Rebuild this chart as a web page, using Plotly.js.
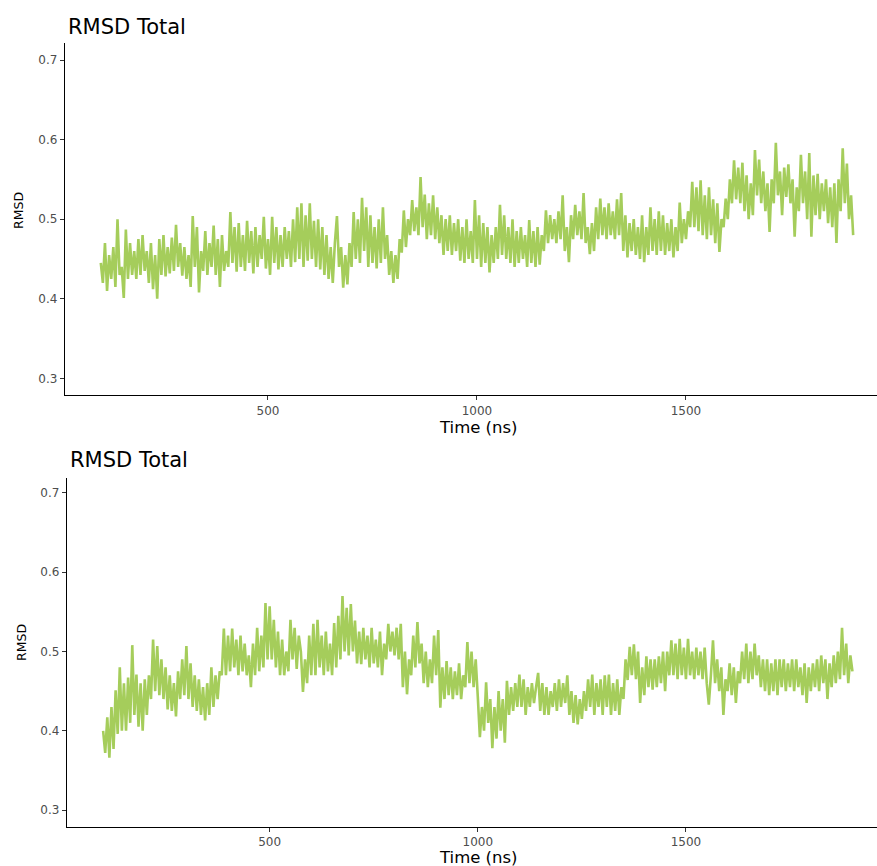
<!DOCTYPE html>
<html>
<head>
<meta charset="utf-8">
<script src="https://cdn.plot.ly/plotly-3.0.1.min.js"></script>
<style>
  html, body { margin: 0; padding: 0; background: #fff; }
  #chart { width: 877px; height: 866px; }
</style>
</head>
<body>
<div id="chart"></div>
<script>
// ---- data (RMSD sampled every 5 ns, from 100 ns to 1900 ns) ----
const timeStartNs = 100;
const timeStepNs = 5;

const rmsdTop = [
  0.445,0.42,0.47,0.41,0.455,0.425,0.465,0.415,0.50,0.43,0.44,0.401,0.487,0.425,0.47,0.43,0.46,0.425,0.475,0.43,
  0.48,0.435,0.46,0.42,0.47,0.412,0.455,0.40,0.475,0.43,0.48,0.428,0.465,0.432,0.477,0.435,0.493,0.44,0.47,0.429,
  0.465,0.425,0.455,0.415,0.504,0.44,0.49,0.408,0.46,0.435,0.485,0.43,0.47,0.44,0.492,0.43,0.475,0.415,0.48,0.435,
  0.46,0.44,0.509,0.445,0.49,0.434,0.495,0.44,0.48,0.435,0.498,0.445,0.485,0.432,0.49,0.44,0.48,0.45,0.503,0.438,
  0.475,0.43,0.503,0.445,0.49,0.437,0.48,0.44,0.49,0.45,0.485,0.44,0.50,0.446,0.515,0.45,0.52,0.44,0.505,0.448,
  0.52,0.45,0.498,0.44,0.50,0.437,0.49,0.43,0.48,0.425,0.465,0.42,0.47,0.504,0.44,0.465,0.414,0.455,0.418,0.47,
  0.44,0.509,0.45,0.50,0.445,0.527,0.46,0.515,0.44,0.505,0.445,0.49,0.438,0.50,0.445,0.515,0.45,0.48,0.43,0.46,
  0.42,0.455,0.425,0.475,0.458,0.511,0.465,0.50,0.48,0.524,0.485,0.515,0.48,0.553,0.49,0.531,0.475,0.52,0.48,0.53,
  0.475,0.515,0.47,0.505,0.455,0.50,0.46,0.505,0.455,0.495,0.46,0.50,0.448,0.49,0.445,0.50,0.45,0.485,0.445,0.524,
  0.45,0.505,0.44,0.495,0.445,0.49,0.433,0.48,0.445,0.49,0.45,0.518,0.455,0.505,0.45,0.49,0.445,0.50,0.44,0.485,
  0.445,0.49,0.45,0.48,0.44,0.499,0.445,0.485,0.44,0.49,0.443,0.48,0.46,0.511,0.47,0.505,0.475,0.50,0.47,0.51,
  0.475,0.53,0.46,0.49,0.446,0.505,0.475,0.518,0.48,0.51,0.475,0.533,0.47,0.49,0.456,0.495,0.46,0.515,0.475,0.526,
  0.48,0.515,0.475,0.52,0.48,0.51,0.475,0.525,0.48,0.533,0.46,0.505,0.452,0.495,0.46,0.50,0.455,0.49,0.45,0.505,
  0.446,0.49,0.455,0.515,0.46,0.50,0.455,0.51,0.46,0.505,0.455,0.495,0.46,0.50,0.452,0.49,0.46,0.521,0.47,0.50,
  0.475,0.51,0.49,0.547,0.49,0.54,0.485,0.549,0.48,0.53,0.475,0.54,0.48,0.525,0.47,0.52,0.459,0.50,0.49,0.526,
  0.50,0.55,0.52,0.574,0.525,0.565,0.52,0.571,0.51,0.555,0.50,0.545,0.505,0.587,0.53,0.575,0.52,0.56,0.51,0.545,
  0.484,0.55,0.52,0.596,0.53,0.56,0.505,0.565,0.528,0.569,0.52,0.55,0.478,0.54,0.51,0.581,0.52,0.56,0.50,0.583,
  0.478,0.555,0.505,0.557,0.50,0.545,0.51,0.55,0.495,0.54,0.49,0.545,0.47,0.55,0.51,0.589,0.52,0.57,0.50,0.53,
  0.48
];

const rmsdBottom = [
  0.40,0.372,0.417,0.366,0.43,0.377,0.451,0.396,0.48,0.40,0.46,0.40,0.467,0.41,0.508,0.42,0.471,0.405,0.46,0.40,
  0.465,0.42,0.47,0.44,0.515,0.45,0.507,0.445,0.49,0.44,0.48,0.427,0.47,0.425,0.46,0.418,0.475,0.44,0.49,0.445,
  0.507,0.44,0.485,0.43,0.47,0.425,0.465,0.42,0.455,0.413,0.46,0.42,0.48,0.43,0.47,0.44,0.475,0.47,0.529,0.47,
  0.52,0.475,0.529,0.48,0.515,0.47,0.52,0.475,0.51,0.47,0.495,0.455,0.51,0.47,0.53,0.475,0.52,0.48,0.561,0.49,
  0.557,0.49,0.54,0.48,0.525,0.47,0.515,0.47,0.50,0.475,0.54,0.49,0.53,0.478,0.52,0.50,0.449,0.49,0.46,0.52,
  0.47,0.535,0.47,0.54,0.48,0.52,0.47,0.525,0.475,0.51,0.47,0.536,0.48,0.545,0.49,0.57,0.50,0.555,0.495,0.56,
  0.50,0.539,0.485,0.525,0.484,0.53,0.49,0.52,0.48,0.53,0.485,0.515,0.48,0.525,0.47,0.51,0.49,0.535,0.50,0.525,
  0.495,0.53,0.49,0.535,0.455,0.50,0.446,0.49,0.47,0.52,0.48,0.537,0.485,0.51,0.46,0.50,0.455,0.49,0.46,0.52,
  0.47,0.527,0.429,0.48,0.44,0.488,0.445,0.48,0.44,0.475,0.445,0.485,0.44,0.47,0.455,0.512,0.46,0.50,0.455,0.49,
  0.443,0.392,0.43,0.40,0.461,0.41,0.44,0.378,0.43,0.39,0.45,0.40,0.44,0.385,0.463,0.42,0.455,0.425,0.46,0.43,
  0.471,0.43,0.465,0.42,0.455,0.43,0.46,0.435,0.455,0.473,0.425,0.46,0.42,0.455,0.42,0.45,0.43,0.46,0.425,0.465,
  0.43,0.46,0.435,0.47,0.42,0.45,0.41,0.445,0.408,0.44,0.415,0.45,0.425,0.465,0.43,0.471,0.42,0.46,0.43,0.465,
  0.42,0.47,0.43,0.471,0.42,0.46,0.425,0.465,0.42,0.455,0.44,0.49,0.464,0.506,0.47,0.509,0.465,0.50,0.435,0.48,
  0.445,0.494,0.455,0.49,0.452,0.49,0.455,0.494,0.46,0.50,0.45,0.50,0.47,0.514,0.47,0.51,0.465,0.516,0.47,0.505,
  0.465,0.516,0.47,0.50,0.465,0.505,0.47,0.50,0.465,0.505,0.46,0.433,0.47,0.514,0.46,0.49,0.45,0.48,0.42,0.465,
  0.45,0.485,0.445,0.48,0.435,0.475,0.46,0.50,0.465,0.51,0.46,0.50,0.465,0.51,0.47,0.495,0.455,0.49,0.45,0.49,
  0.445,0.485,0.45,0.49,0.445,0.49,0.455,0.49,0.45,0.485,0.455,0.49,0.45,0.49,0.455,0.48,0.445,0.485,0.435,0.48,
  0.45,0.485,0.455,0.49,0.45,0.495,0.46,0.49,0.44,0.485,0.455,0.495,0.46,0.50,0.465,0.53,0.47,0.51,0.46,0.495,
  0.475
];

const xTickVals = [500, 1000, 1500];
const yTickVals = [0.3, 0.4, 0.5, 0.6, 0.7];
const yTickText = ["0.3", "0.4", "0.5", "0.6", "0.7"];
const panelTitle = "RMSD Total";
const xTitle = "Time (ns)";
const yTitle = "RMSD";

// sampling grid (time axis)
function timeGrid(n) {
  const t = [];
  for (let i = 0; i < n; i++) t.push(timeStartNs + i * timeStepNs);
  return t;
}

const lineColor = "#a5cd5b";
const FONT = "DejaVu Sans, Liberation Sans, Arial, sans-serif";

const traces = [
  { x: timeGrid(rmsdTop.length), y: rmsdTop, type: "scatter", mode: "lines",
    line: { color: lineColor, width: 2.6, simplify: false }, xaxis: "x", yaxis: "y", hoverinfo: "x+y" },
  { x: timeGrid(rmsdBottom.length), y: rmsdBottom, type: "scatter", mode: "lines",
    line: { color: lineColor, width: 2.6, simplify: false }, xaxis: "x2", yaxis: "y2", hoverinfo: "x+y" }
];

const W = 877, H = 866;
const px = v => v / W;
const py = v => (H - v) / H;

const xAxisCommon = {
  showgrid: false, zeroline: false, showline: true, linecolor: "#000", linewidth: 1.2,
  ticks: "outside", ticklen: 4, tickwidth: 1, tickcolor: "#333",
  tickvals: xTickVals, tickfont: { family: FONT, size: 12, color: "#4d4d4d" },
  fixedrange: true
};
const yAxisCommon = {
  showgrid: false, zeroline: false, showline: true, linecolor: "#000", linewidth: 1.2,
  ticks: "outside", ticklen: 4, tickwidth: 1, tickcolor: "#333",
  tickvals: yTickVals, ticktext: yTickText, tickfont: { family: FONT, size: 12, color: "#4d4d4d" },
  fixedrange: true
};

const layout = {
  width: W, height: H,
  margin: { l: 0, r: 0, t: 0, b: 0 },
  paper_bgcolor: "#fff", plot_bgcolor: "#fff",
  showlegend: false,
  font: { family: FONT },
  xaxis: Object.assign({}, xAxisCommon, { domain: [px(65), 1], range: [14.4, 1957], anchor: "y" }),
  yaxis: Object.assign({}, yAxisCommon, { domain: [py(395), py(43)], range: [0.2791, 0.7214], anchor: "x" }),
  xaxis2: Object.assign({}, xAxisCommon, { domain: [px(67), 1], range: [13.2, 1959], anchor: "y2" }),
  yaxis2: Object.assign({}, yAxisCommon, { domain: [py(826.5), py(478)], range: [0.2792, 0.7189], anchor: "x2" }),
  annotations: [
    { text: panelTitle, xref: "paper", yref: "paper", x: px(66), y: py(27), xanchor: "left", yanchor: "middle",
      showarrow: false, font: { family: FONT, size: 21, color: "#000" } },
    { text: panelTitle, xref: "paper", yref: "paper", x: px(68), y: py(460), xanchor: "left", yanchor: "middle",
      showarrow: false, font: { family: FONT, size: 21, color: "#000" } },
    { text: xTitle, xref: "paper", yref: "paper", x: px(478), y: py(427), xanchor: "center", yanchor: "middle",
      showarrow: false, font: { family: FONT, size: 16.5, color: "#000" } },
    { text: xTitle, xref: "paper", yref: "paper", x: px(478), y: py(857), xanchor: "center", yanchor: "middle",
      showarrow: false, font: { family: FONT, size: 16.5, color: "#000" } },
    { text: yTitle, xref: "paper", yref: "paper", x: px(19), y: py(211), xanchor: "center", yanchor: "middle",
      textangle: -90, showarrow: false, font: { family: FONT, size: 12.5, color: "#000" } },
    { text: yTitle, xref: "paper", yref: "paper", x: px(21), y: py(643), xanchor: "center", yanchor: "middle",
      textangle: -90, showarrow: false, font: { family: FONT, size: 12.5, color: "#000" } }
  ]
};

Plotly.newPlot("chart", traces, layout, { displayModeBar: false, staticPlot: true });
</script>
</body>
</html>
